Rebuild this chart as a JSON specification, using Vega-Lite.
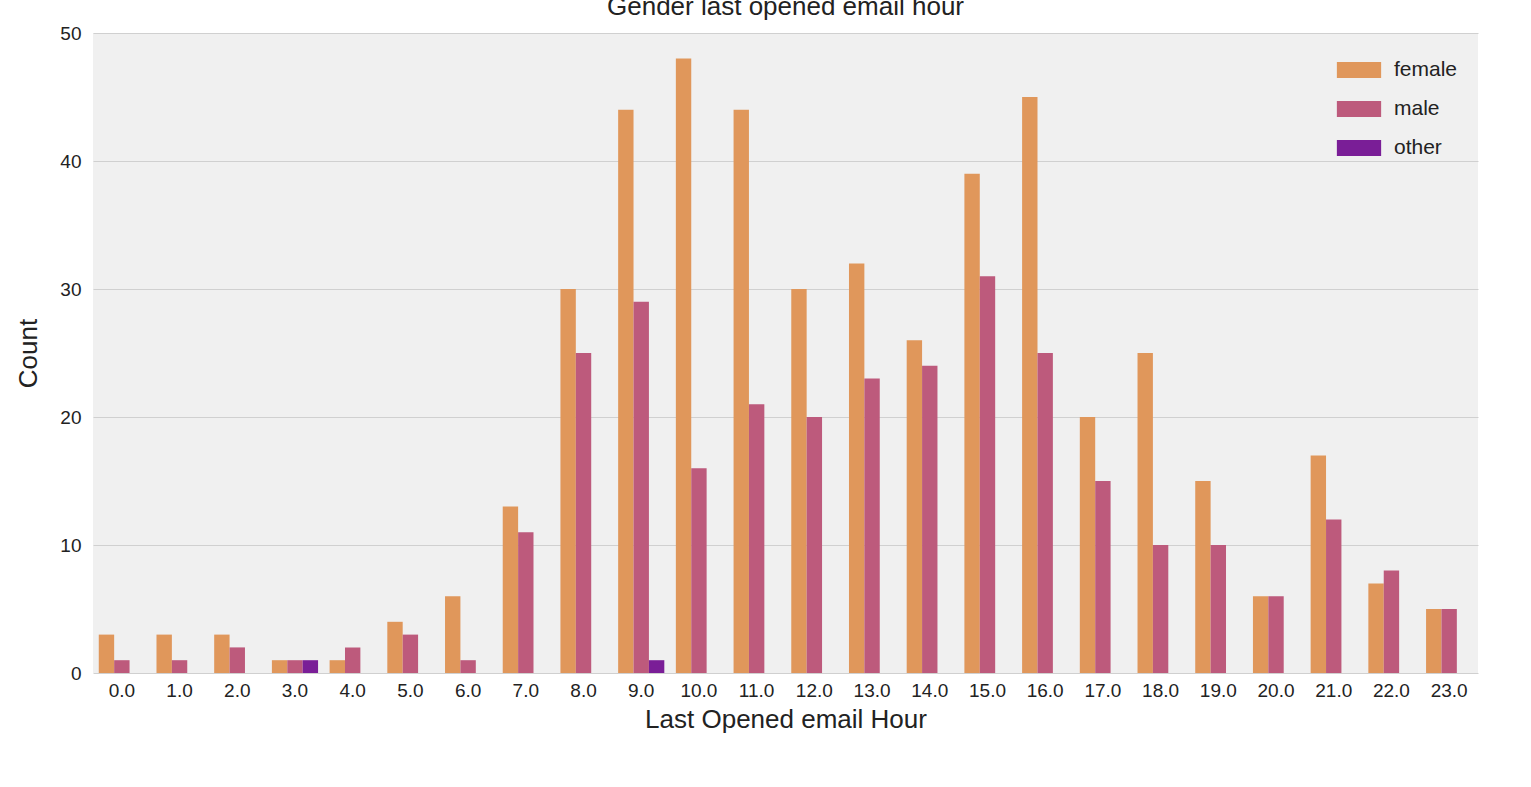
{
  "$schema": "https://vega.github.io/schema/vega-lite/v6.json",
  "autosize": "none",
  "padding": {"left": 93, "top": 33, "right": 53, "bottom": 114},
  "width": 1385,
  "height": 640,
  "background": "white",
  "config": {
    "view": {"fill": "#f0f0f0", "stroke": null},
    "font": "Liberation Sans"
  },
  "title": {"text": "Gender last opened email hour", "fontSize": 26, "fontWeight": "normal", "color": "#222", "offset": 4},
  "data": {
    "values": [
      {"hour": "0.0", "gender": "female", "count": 3}, {"hour": "0.0", "gender": "male", "count": 1},
      {"hour": "1.0", "gender": "female", "count": 3}, {"hour": "1.0", "gender": "male", "count": 1},
      {"hour": "2.0", "gender": "female", "count": 3}, {"hour": "2.0", "gender": "male", "count": 2},
      {"hour": "3.0", "gender": "female", "count": 1}, {"hour": "3.0", "gender": "male", "count": 1}, {"hour": "3.0", "gender": "other", "count": 1},
      {"hour": "4.0", "gender": "female", "count": 1}, {"hour": "4.0", "gender": "male", "count": 2},
      {"hour": "5.0", "gender": "female", "count": 4}, {"hour": "5.0", "gender": "male", "count": 3},
      {"hour": "6.0", "gender": "female", "count": 6}, {"hour": "6.0", "gender": "male", "count": 1},
      {"hour": "7.0", "gender": "female", "count": 13}, {"hour": "7.0", "gender": "male", "count": 11},
      {"hour": "8.0", "gender": "female", "count": 30}, {"hour": "8.0", "gender": "male", "count": 25},
      {"hour": "9.0", "gender": "female", "count": 44}, {"hour": "9.0", "gender": "male", "count": 29}, {"hour": "9.0", "gender": "other", "count": 1},
      {"hour": "10.0", "gender": "female", "count": 48}, {"hour": "10.0", "gender": "male", "count": 16},
      {"hour": "11.0", "gender": "female", "count": 44}, {"hour": "11.0", "gender": "male", "count": 21},
      {"hour": "12.0", "gender": "female", "count": 30}, {"hour": "12.0", "gender": "male", "count": 20},
      {"hour": "13.0", "gender": "female", "count": 32}, {"hour": "13.0", "gender": "male", "count": 23},
      {"hour": "14.0", "gender": "female", "count": 26}, {"hour": "14.0", "gender": "male", "count": 24},
      {"hour": "15.0", "gender": "female", "count": 39}, {"hour": "15.0", "gender": "male", "count": 31},
      {"hour": "16.0", "gender": "female", "count": 45}, {"hour": "16.0", "gender": "male", "count": 25},
      {"hour": "17.0", "gender": "female", "count": 20}, {"hour": "17.0", "gender": "male", "count": 15},
      {"hour": "18.0", "gender": "female", "count": 25}, {"hour": "18.0", "gender": "male", "count": 10},
      {"hour": "19.0", "gender": "female", "count": 15}, {"hour": "19.0", "gender": "male", "count": 10},
      {"hour": "20.0", "gender": "female", "count": 6}, {"hour": "20.0", "gender": "male", "count": 6},
      {"hour": "21.0", "gender": "female", "count": 17}, {"hour": "21.0", "gender": "male", "count": 12},
      {"hour": "22.0", "gender": "female", "count": 7}, {"hour": "22.0", "gender": "male", "count": 8},
      {"hour": "23.0", "gender": "female", "count": 5}, {"hour": "23.0", "gender": "male", "count": 5}
    ]
  },
  "mark": {"type": "bar"},
  "encoding": {
    "x": {
      "field": "hour", "type": "nominal", "sort": null,
      "scale": {"paddingInner": 0.2, "paddingOuter": 0.1},
      "title": "Last Opened email Hour",
      "axis": {"labelAngle": 0, "labelFontSize": 19, "labelColor": "#222", "titleFontSize": 26, "titleFontWeight": "normal", "titleColor": "#222", "domain": false, "ticks": false, "labelPadding": 8, "titlePadding": 6}
    },
    "xOffset": {"field": "gender", "type": "nominal", "scale": {"domain": ["female", "male", "other"], "paddingInner": 0, "paddingOuter": 0}},
    "y": {
      "field": "count", "type": "quantitative",
      "scale": {"domain": [0, 50], "nice": false},
      "title": "Count",
      "axis": {"values": [0, 10, 20, 30, 40, 50], "labelFontSize": 19, "labelColor": "#222", "titleFontSize": 26, "titleFontWeight": "normal", "titleColor": "#222", "domain": false, "ticks": false, "gridColor": "#d0d0d0", "labelPadding": 12, "titlePadding": 18}
    },
    "color": {
      "field": "gender", "type": "nominal",
      "scale": {"domain": ["female", "male", "other"], "range": ["#e0975b", "#bd5a7c", "#7a1e97"]},
      "legend": {"orient": "top-right", "title": null, "labelFontSize": 21, "labelColor": "#222", "symbolType": "M-1.4,-0.5H1.4V0.5H-1.4Z", "symbolSize": 1000, "symbolOpacity": 1, "rowPadding": 12, "labelOffset": 18, "offset": 20}
    }
  }
}
